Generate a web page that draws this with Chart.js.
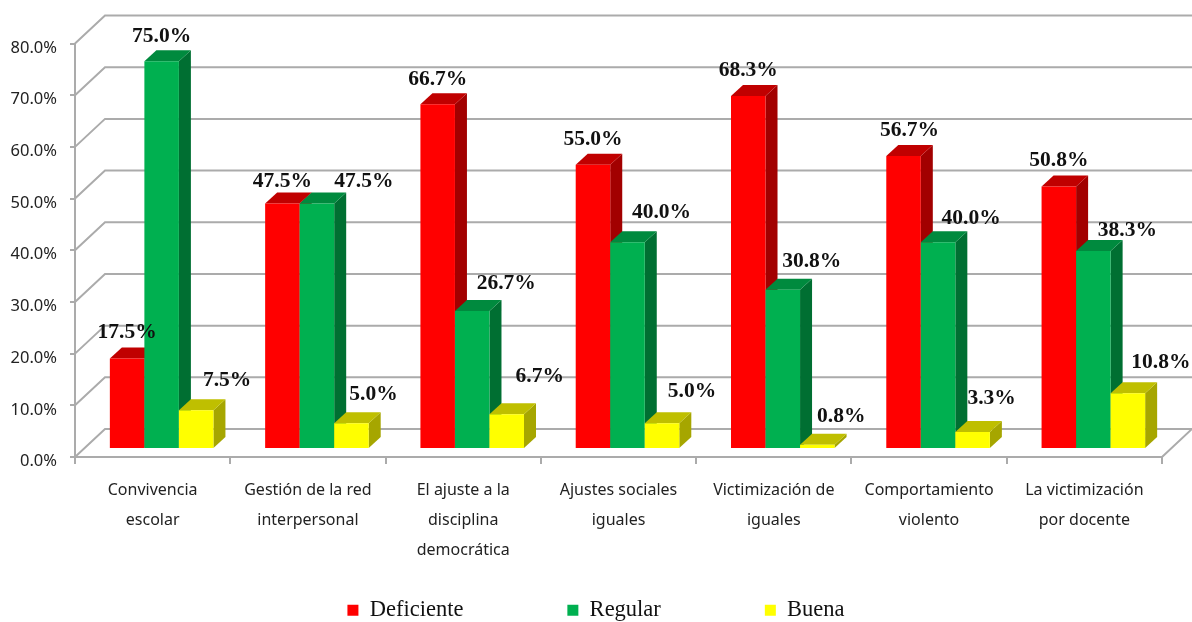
<!DOCTYPE html>
<html><head><meta charset="utf-8">
<style>html,body{margin:0;padding:0;background:#fff;overflow:hidden}canvas{display:block}</style>
<script src="https://cdn.jsdelivr.net/npm/chart.js@4"></script>
</head><body><canvas id="c" width="1192" height="622"></canvas>
<script>
const categories = [
  ["Convivencia","escolar"],
  ["Gestión de la red","interpersonal"],
  ["El ajuste a la","disciplina","democrática"],
  ["Ajustes sociales","iguales"],
  ["Victimización de","iguales"],
  ["Comportamiento","violento"],
  ["La victimización","por docente"]
];
const deficiente = [17.5,47.5,66.7,55.0,68.3,56.7,50.8];
const regular    = [75.0,47.5,26.7,40.0,30.8,40.0,38.3];
const buena      = [7.5,5.0,6.7,5.0,0.8,3.3,10.8];

// label placement relative to the bar's front face
const labelDx = [[0,0,0,0,0,6,0],[0,47,34,34,29,33,34],[31,22,33,30,24,19,33]];
const labelDy = [[-26,-22,-25,-25,-26,-25,-26],[-25,-22,-28,-30,-28,-24,-21],[-30,-29,-38,-32,-28,-33,-31]];
const faces = [
  {top:'#c00000',side:'#a20000'},
  {top:'#008a3e',side:'#006f32'},
  {top:'#bfbf00',side:'#a6a600'}
];
const AXIS='#ababab', BACK_X=30, BACK_Y=-28, BAR_X=9, BAR_Y=-8, DEPTH_X=12, DEPTH_Y=-11;

const depthPlugin = {
  id:'depth',
  afterLayout(chart){
    const l=chart.legend;
    l.top=495; l.bottom=622;
    l.left+=15; l.right+=15;
  },
  beforeDatasetsDraw(chart){
    const {ctx,scales:{y},chartArea:a}=chart;
    ctx.save();
    ctx.strokeStyle=AXIS; ctx.lineWidth=2;
    ctx.beginPath();
    y.ticks.forEach(t=>{
      const py=y.getPixelForValue(t.value);
      ctx.moveTo(a.left,py); ctx.lineTo(a.left+BACK_X,py+BACK_Y); ctx.lineTo(a.right+BACK_X,py+BACK_Y);
    });
    const y0=y.getPixelForValue(0);
    ctx.moveTo(a.right,y0); ctx.lineTo(a.right+BACK_X,y0+BACK_Y);
    ctx.stroke();
    ctx.restore();
    // bars are painted left to right so each one overlaps the depth of its left neighbour
    chart.data.datasets.forEach((ds,i)=>{
      const meta=chart.getDatasetMeta(i), f=faces[i];
      ctx.save();
      ctx.translate(BAR_X,BAR_Y);
      meta.data.forEach(b=>{
        const p=b.getProps(['x','y','base','width'],true);
        const l=p.x-p.width/2, r=p.x+p.width/2;
        ctx.fillStyle=f.side;
        ctx.beginPath();
        ctx.moveTo(r,p.y); ctx.lineTo(r+DEPTH_X,p.y+DEPTH_Y); ctx.lineTo(r+DEPTH_X,p.base+DEPTH_Y); ctx.lineTo(r,p.base);
        ctx.closePath(); ctx.fill();
        ctx.fillStyle=f.top;
        ctx.beginPath();
        ctx.moveTo(l,p.y); ctx.lineTo(l+DEPTH_X,p.y+DEPTH_Y); ctx.lineTo(r+DEPTH_X,p.y+DEPTH_Y); ctx.lineTo(r,p.y);
        ctx.closePath(); ctx.fill();
      });
      meta.controller.draw();
      ctx.restore();
    });
  },
  beforeDatasetDraw(){ return false; },
  afterDatasetsDraw(chart){
    const ctx=chart.ctx;
    ctx.save();
    ctx.font='bold 21.5px "Liberation Serif"';
    ctx.fillStyle='#111';
    ctx.textAlign='center'; ctx.textBaseline='middle';
    chart.data.datasets.forEach((ds,i)=>{
      chart.getDatasetMeta(i).data.forEach((b,j)=>{
        ctx.fillText(ds.data[j].toFixed(1)+'%', b.x+BAR_X+labelDx[i][j], b.y+BAR_Y+labelDy[i][j]);
      });
    });
    ctx.restore();
  }
};

new Chart(document.getElementById('c'),{
  type:'bar',
  data:{labels:categories,datasets:[
    {label:'Deficiente',data:deficiente,backgroundColor:'#ff0000'},
    {label:'Regular',data:regular,backgroundColor:'#00b050'},
    {label:'Buena',data:buena,backgroundColor:'#ffff00'}
  ]},
  options:{
    responsive:false,animation:false,
    layout:{padding:{top:43.5,right:30,left:0,bottom:0}},
    datasets:{bar:{categoryPercentage:0.667,barPercentage:1,borderWidth:0}},
    scales:{
      x:{
        afterFit(s){s.height=125;},
        border:{color:AXIS,width:2},
        grid:{drawOnChartArea:false,drawTicks:true,tickLength:7,color:AXIS,lineWidth:2},
        ticks:{font:{family:'"Noto Sans"',size:16,lineHeight:1.89},color:'#222',padding:11,maxRotation:0,autoSkip:false}
      },
      y:{
        min:0,max:80,
        afterFit(s){s.width=75;},
        border:{color:AXIS,width:2},
        grid:{drawOnChartArea:false,drawTicks:true,tickLength:5,color:AXIS,lineWidth:2},
        ticks:{stepSize:10,font:{family:'"Noto Sans"',size:16.5},color:'#222',padding:13,labelOffset:4.5,callback:v=>v.toFixed(1)+'%'}
      }
    },
    plugins:{
      tooltip:{enabled:false},
      legend:{position:'bottom',maxHeight:40,
        labels:{boxWidth:11,boxHeight:11,padding:104,color:'#111',font:{family:'"Liberation Serif"',size:22.5}}}
    }
  },
  plugins:[depthPlugin]
});
</script></body></html>
